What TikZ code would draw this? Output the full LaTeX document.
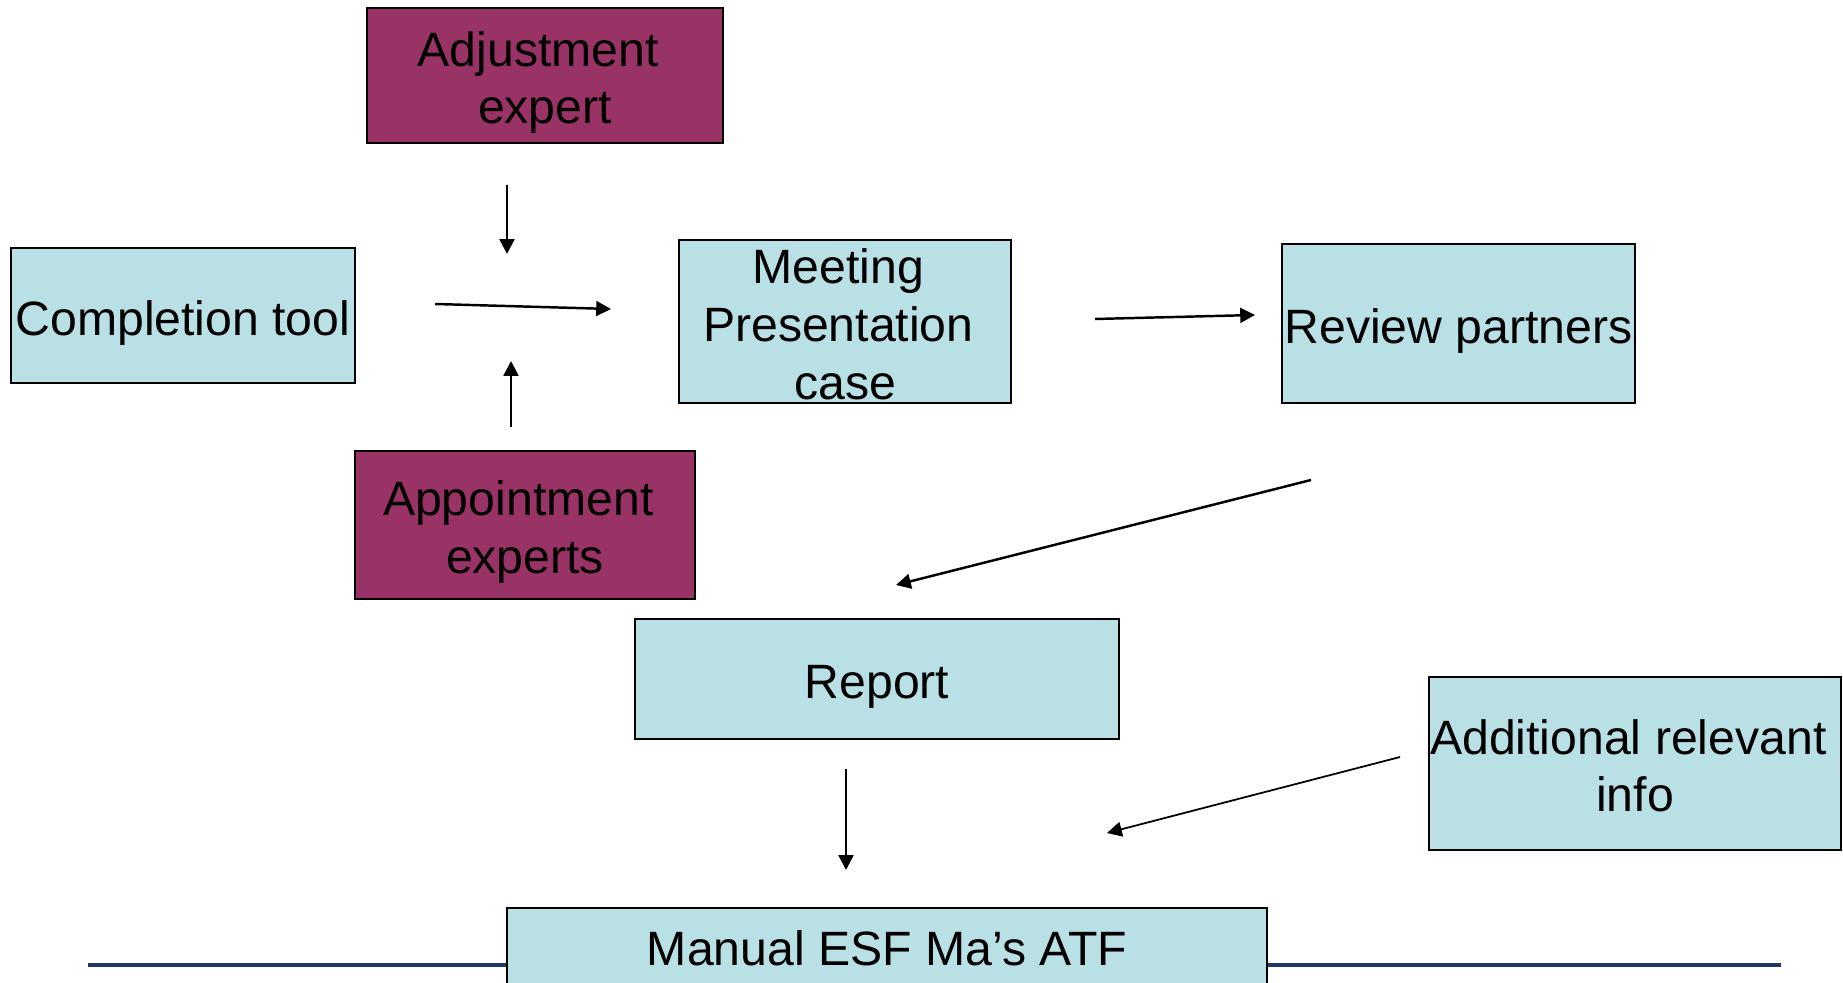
\documentclass[tikz,border=0pt]{standalone}
\usepackage{fontspec}
\setmainfont{Liberation Sans}
\usetikzlibrary{arrows.meta}
\definecolor{plum}{RGB}{153,51,102}
\definecolor{paleteal}{RGB}{185,224,228}
\definecolor{navyline}{RGB}{31,56,100}
% first-line strut, pushes the text a little down in its box
\newcommand\dropstrut[1][14pt]{\rule{0pt}{#1}}
% trailing space of a wrapped line
\newcommand\tailsp{\kern0.278em}

\begin{document}
\begin{tikzpicture}[x=0.01cm, y=-0.01cm,
  every node/.style={font=\fontsize{13.7}{16.4}\selectfont, inner sep=0pt, align=center},
  box/.style={draw, line width=0.6pt},
  tealbox/.style={box, fill=paleteal},
  plumbox/.style={box, fill=plum},
  flow/.style={line width=0.7pt, -{Triangle[length=4.2pt,width=4.2pt]}}]
  % slide frame
  \clip (0,0) rectangle (1843,983);

  % rule along the bottom of the slide
  \coordinate (ruleL) at (88,965);
  \coordinate (ruleR) at (1781,965);
  \draw[navyline, line width=0.9pt] (ruleL) -- (ruleR);

  % boxes
  \node[plumbox, minimum width=3.56cm, minimum height=1.35cm] (adj) at (545,75.5) {\dropstrut Adjustment\tailsp\\ expert};
  \node[tealbox, minimum width=3.44cm, minimum height=1.35cm] (comp) at (183,315.5) {\dropstrut Completion tool};
  \node[tealbox, minimum width=3.32cm, minimum height=1.63cm] (meet) at (845,321.5) {\dropstrut[11.6pt]Meeting\tailsp\\ Presentation\tailsp\\ case};
  \node[tealbox, minimum width=3.53cm, minimum height=1.59cm] (review) at (1458.5,323.5) {\dropstrut Review partners};
  \node[plumbox, minimum width=3.40cm, minimum height=1.48cm] (appt) at (525,525) {\dropstrut Appointment\tailsp\\ experts};
  \node[tealbox, minimum width=4.84cm, minimum height=1.20cm] (report) at (877,679) {\dropstrut Report};
  \node[tealbox, minimum width=4.12cm, minimum height=1.73cm] (addl) at (1635,763.5) {\dropstrut[11.2pt]Additional relevant\tailsp\\ info};
  \node[tealbox, minimum width=7.60cm, minimum height=0.80cm, anchor=north] (manual) at (887,907) {Manual ESF Ma’s ATF};

  % loose arrow ends
  \coordinate (a1) at (507,185);  \coordinate (a2) at (507,254);
  \coordinate (b1) at (435,304);  \coordinate (b2) at (611,309);
  \coordinate (c1) at (511,427);  \coordinate (c2) at (511,361);
  \coordinate (d1) at (1095,319); \coordinate (d2) at (1255,315);
  \coordinate (e1) at (1311,480); \coordinate (e2) at (896,585);
  \coordinate (f1) at (846,769);  \coordinate (f2) at (846,870);
  \coordinate (g1) at (1400,757); \coordinate (g2) at (1107,833);

  \draw[flow] (a1) -- (a2);
  \draw[flow] (b1) -- (b2);
  \draw[flow] (c1) -- (c2);
  \draw[flow] (d1) -- (d2);
  \draw[flow] (e1) -- (e2);
  \draw[flow] (f1) -- (f2);
  \draw[flow, line width=0.5pt] (g1) -- (g2);
\end{tikzpicture}
\end{document}
